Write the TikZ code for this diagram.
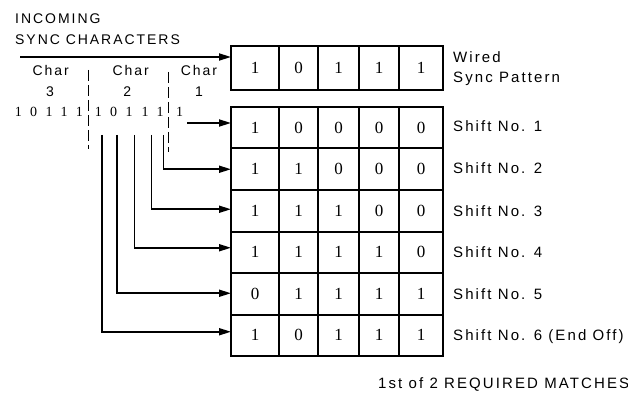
\documentclass[tikz,border=0pt]{standalone}
\usepackage{fontspec}
\setmainfont{Liberation Serif}
\newfontfamily\lab{Liberation Sans}[LetterSpace=14]
\newfontfamily\dig{Liberation Serif}
\usetikzlibrary{arrows.meta}
\tikzset{
  cell/.style={draw, line width=2pt, inner sep=0pt, outer sep=0pt,
    font=\dig\fontsize{17}{17}\selectfont},
  lbl/.style={inner sep=0pt, anchor=base west, font=\lab\fontsize{15}{15}\selectfont},
  toplbl/.style={inner sep=0pt, anchor=base west, font=\lab\fontsize{14}{14}\selectfont},
  charlbl/.style={inner sep=0pt, anchor=base, font=\lab\fontsize{14}{14}\selectfont},
  bit/.style={inner sep=0pt, font=\dig\fontsize{14}{14}\selectfont},
  arr/.style={line width=1.8pt, -{Triangle[length=12pt,width=7pt]}},
  sep/.style={line width=1.6pt, dash pattern=on 11pt off 4pt}
}
\begin{document}
\begin{tikzpicture}[x=1pt,y=-1pt]
\useasboundingbox (0,0) rectangle (628,403);
% registers
\foreach \r/\y/\h/\vals in {w/68/44/{1,0,1,1,1},
    1/127.75/41.5/{1,0,0,0,0}, 2/169.25/41.5/{1,1,0,0,0},
    3/210.75/41.5/{1,1,1,0,0}, 4/252.25/41.5/{1,1,1,1,0},
    5/293.75/41.5/{0,1,1,1,1}, 6/335.25/41.5/{1,0,1,1,1}} {
  \foreach \v [count=\c] in \vals {
    \pgfmathsetmacro\cx{{255,298.5,338.5,379,421}[\c-1]}
    \pgfmathsetmacro\cw{{48,39,41,40,44}[\c-1]}
    \node[cell, minimum width=\cw pt, minimum height=\h pt] (r\r c\c) at (\cx,\y) {\v};
  }
}
% titles
\node[toplbl] (t1) at (15,23.3) {INCOMING};
\node[toplbl] (t2) at (15,45) {SYNC CHARACTERS};
\node[charlbl] (ch3) at (50.8,75.5) {Char};
\node[charlbl] (ch2) at (130.8,75.5) {Char};
\node[charlbl] (ch1) at (199,76) {Char};
\node[charlbl] (n3) at (50,96.5) {3};
\node[charlbl] (n2) at (127.3,96.5) {2};
\node[charlbl] (n1) at (199,96.5) {1};
% incoming bits
\foreach \x/\v [count=\i] in {18.3/1,33.5/0,49/1,64/1,79.3/1,98.3/1,113.5/0,129/1,145/1,160/1,179.5/1}
  \node[bit] (b\i) at (\x,111.5) {\v};
% separators
\draw[sep] (88.5,70) -- (88.5,149);
\draw[sep] (168.5,72) -- (168.5,152);
% connectors
\coordinate (in) at (20,57);
\coordinate (h1) at (187,123);
\coordinate (v2) at (163.5,135);
\coordinate (v3) at (151.5,135);
\coordinate (v4) at (134.5,135);
\coordinate (v5) at (117,135);
\coordinate (v6) at (102,135);
\draw[arr] (in) -- ([yshift=11pt]rwc1.west);
\draw[arr] (h1) -- ([yshift=4.75pt]r1c1.west);
\draw[arr] (v2) |- ([yshift=0pt]r2c1.west);
\draw[arr] (v3) |- ([yshift=1.5pt]r3c1.west);
\draw[arr] (v4) |- ([yshift=4.5pt]r4c1.west);
\draw[arr] (v5) |- ([yshift=0.5pt]r5c1.west);
\draw[arr] (v6) |- ([yshift=3.5pt]r6c1.west);
% right labels
\node[lbl] (lw1) at (453,63) {Wired};
\node[lbl] (lw2) at (453,83) {Sync Pattern};
\node[lbl] (l1) at (453,131.5) {Shift No. 1};
\node[lbl] (l2) at (453,174) {Shift No. 2};
\node[lbl] (l3) at (453,216) {Shift No. 3};
\node[lbl] (l4) at (453,257) {Shift No. 4};
\node[lbl] (l5) at (453,299) {Shift No. 5};
\node[lbl] (l6) at (453,340) {Shift No. 6 (End Off)};
\node[lbl] (bot) at (378,388.3) {1st of 2 REQUIRED MATCHES};
\end{tikzpicture}
\end{document}
